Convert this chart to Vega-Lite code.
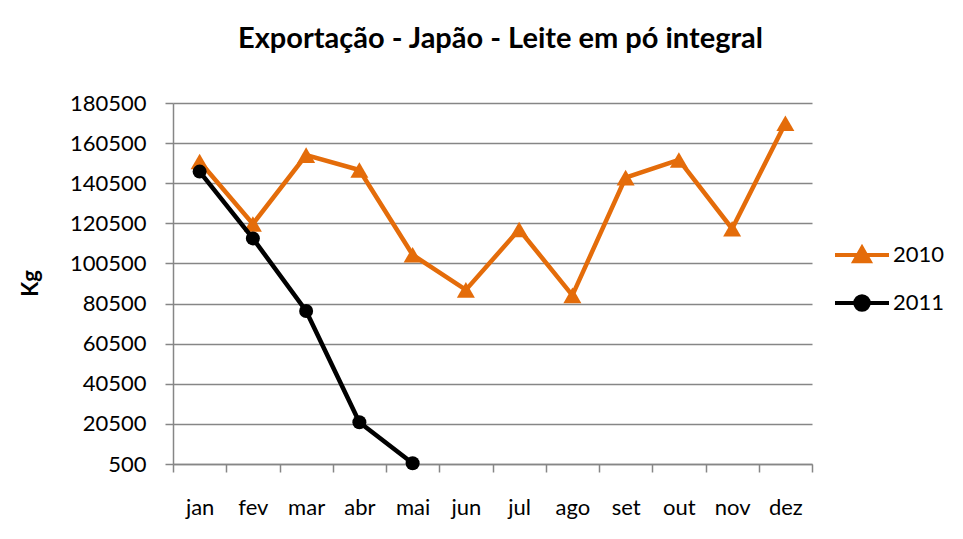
{
  "$schema": "https://vega.github.io/schema/vega-lite/v6.json",
  "width": 639,
  "height": 361,
  "autosize": "none",
  "padding": {"left": 173, "top": 103, "right": 151, "bottom": 75},
  "background": "white",
  "title": {
    "text": "Exportação - Japão - Leite em pó integral",
    "font": "Lato",
    "fontSize": 29,
    "fontWeight": "bold",
    "color": "#000000",
    "anchor": "middle",
    "dx": 8,
    "offset": 38
  },
  "config": {
    "font": "Lato",
    "view": {"stroke": null},
    "axis": {
      "labelFont": "Lato",
      "labelFontSize": 22,
      "labelColor": "#000000",
      "domainColor": "#868686",
      "domainWidth": 1.5,
      "tickColor": "#868686",
      "tickWidth": 1.5,
      "gridColor": "#868686",
      "gridWidth": 1.5
    }
  },
  "data": {
    "values": [
      {"mes": "jan", "ano": "2010", "kg": 151300},
      {"mes": "fev", "ano": "2010", "kg": 120200},
      {"mes": "mar", "ano": "2010", "kg": 154500},
      {"mes": "abr", "ano": "2010", "kg": 147100},
      {"mes": "mai", "ano": "2010", "kg": 104800},
      {"mes": "jun", "ano": "2010", "kg": 87300},
      {"mes": "jul", "ano": "2010", "kg": 117400},
      {"mes": "ago", "ano": "2010", "kg": 84600},
      {"mes": "set", "ano": "2010", "kg": 143300},
      {"mes": "out", "ano": "2010", "kg": 152100},
      {"mes": "nov", "ano": "2010", "kg": 117800},
      {"mes": "dez", "ano": "2010", "kg": 170400},
      {"mes": "jan", "ano": "2011", "kg": 146300},
      {"mes": "fev", "ano": "2011", "kg": 113000},
      {"mes": "mar", "ano": "2011", "kg": 76800},
      {"mes": "abr", "ano": "2011", "kg": 21300},
      {"mes": "mai", "ano": "2011", "kg": 900}
    ]
  },
  "encoding": {
    "x": {
      "field": "mes",
      "type": "nominal",
      "sort": null,
      "scale": {"type": "band", "paddingInner": 0, "paddingOuter": 0},
      "axis": {
        "title": null,
        "labelAngle": 0,
        "tickBand": "extent",
        "tickSize": 8,
        "labelPadding": 25,
        "grid": false
      }
    },
    "y": {
      "field": "kg",
      "type": "quantitative",
      "scale": {"domain": [500, 180500], "nice": false, "zero": false},
      "axis": {
        "values": [500, 20500, 40500, 60500, 80500, 100500, 120500, 140500, 160500, 180500],
        "format": "d",
        "tickSize": 8,
        "labelPadding": 19,
        "grid": true,
        "title": "Kg",
        "titleFont": "Lato",
        "titleFontSize": 22,
        "titleFontWeight": "bold",
        "titleColor": "#000000",
        "titleX": -143,
        "titleY": 180,
        "titleAngle": 270,
        "titleBaseline": "middle"
      }
    },
    "color": {
      "field": "ano",
      "type": "nominal",
      "scale": {"domain": ["2010", "2011"], "range": ["#E46C0A", "#000000"]},
      "legend": {
        "orient": "none",
        "legendX": 678,
        "legendY": 141,
        "title": null,
        "labelFont": "Lato",
        "labelFontSize": 22,
        "labelColor": "#000000",
        "symbolSize": 324,
        "symbolStrokeWidth": 4,
        "labelOffset": 20,
        "rowPadding": 18,
        "encode": {
          "symbols": {
            "update": {
              "shape": {"signal": "datum.value == '2010' ? 'M-3,0H3M-0.85,0.7L0,-0.8L0.85,0.7Z' : 'M-3,0H3M-0.75,0A0.75,0.75 0 1,0 0.75,0A0.75,0.75 0 1,0 -0.75,0Z'"},
              "fill": {"signal": "datum.value == '2010' ? '#E46C0A' : '#000000'"},
              "stroke": {"signal": "datum.value == '2010' ? '#E46C0A' : '#000000'"},
              "strokeWidth": {"value": 4},
              "opacity": {"value": 1},
              "fillOpacity": {"value": 1}
            }
          }
        }
      }
    }
  },
  "layer": [
    {
      "transform": [{"filter": "datum.ano == '2010'"}],
      "mark": {"type": "line", "strokeWidth": 4.5},
      "encoding": {}
    },
    {
      "transform": [{"filter": "datum.ano == '2010'"}],
      "mark": {"type": "point", "shape": "triangle-up", "filled": true, "size": 324, "opacity": 1},
      "encoding": {}
    },
    {
      "transform": [{"filter": "datum.ano == '2011'"}],
      "mark": {"type": "line", "strokeWidth": 4.5},
      "encoding": {}
    },
    {
      "transform": [{"filter": "datum.ano == '2011'"}],
      "mark": {"type": "point", "shape": "circle", "filled": true, "size": 196, "opacity": 1},
      "encoding": {}
    }
  ]
}
